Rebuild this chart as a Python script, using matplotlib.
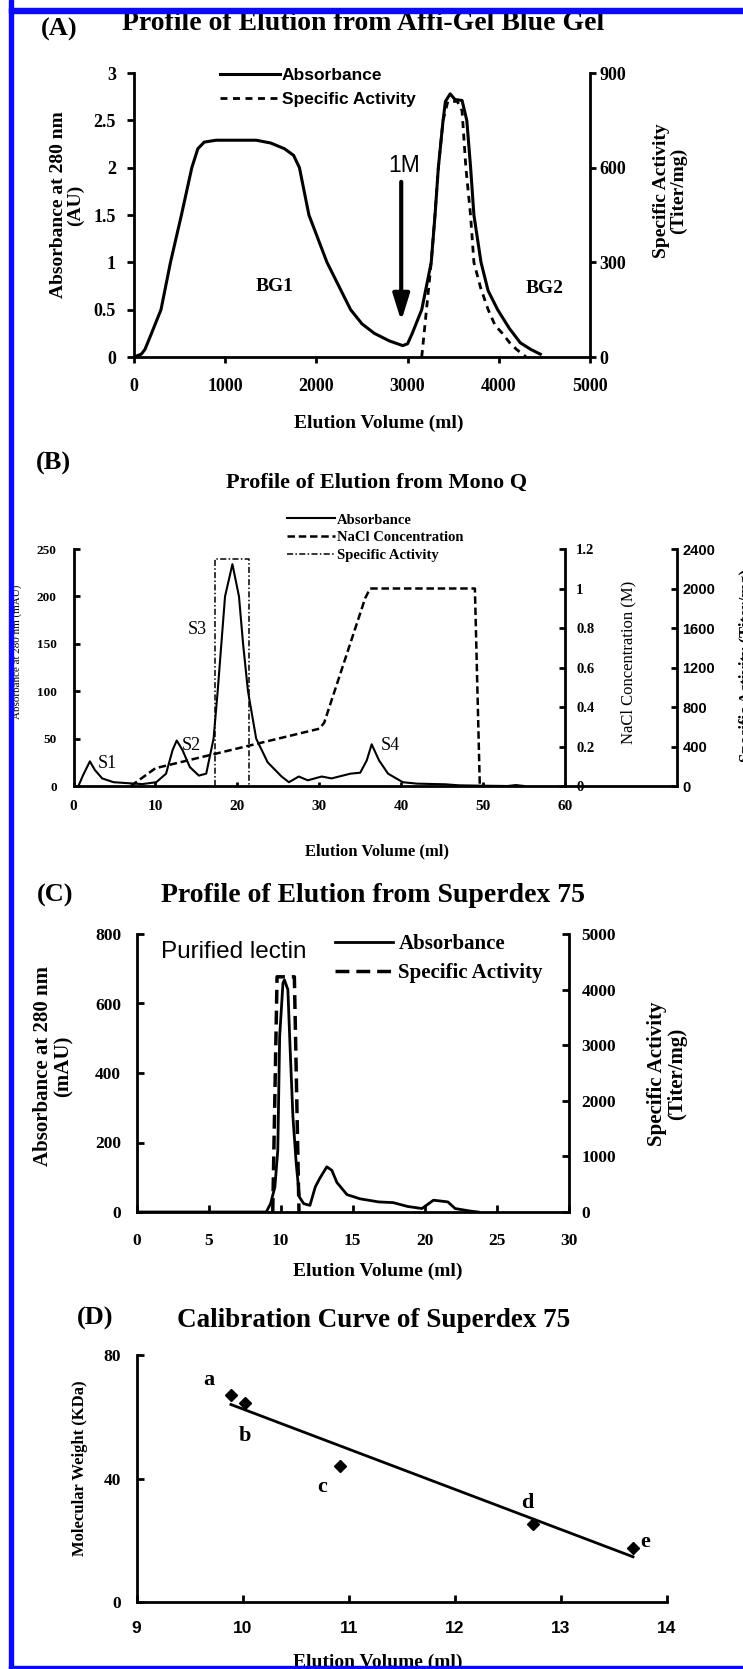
import numpy as np
import matplotlib
matplotlib.use('Agg')
import matplotlib.pyplot as plt
from matplotlib.ticker import FuncFormatter
from matplotlib.lines import Line2D
from matplotlib.patches import Rectangle

plt.rcParams['font.family'] = ['Liberation Serif', 'DejaVu Serif']
plt.rcParams['font.weight'] = 'bold'

SERIF = ['Liberation Serif', 'DejaVu Serif']
SANS = ['Liberation Sans', 'DejaVu Sans']

# ------------------------- DATA -------------------------
# Panel A : Affi-Gel Blue Gel
a_volume = [0, 80, 120, 192, 296, 400, 520, 634, 700, 770, 900, 1100, 1340, 1500, 1650,
            1750, 1814, 1918, 2116, 2375, 2500, 2635, 2800, 2947, 3000, 3051, 3155, 3259,
            3301, 3337, 3389, 3415, 3467, 3519, 3597, 3649, 3691, 3727, 3805, 3883, 3987,
            4117, 4236, 4351, 4455]
a_absorbance = [0, 0.03, 0.08, 0.25, 0.5, 1.0, 1.5, 2.0, 2.2, 2.27, 2.29, 2.29, 2.29, 2.26, 2.2,
                2.13, 2.0, 1.5, 1.0, 0.5, 0.35, 0.25, 0.17, 0.12, 0.14, 0.25, 0.5, 1.0,
                1.5, 2.0, 2.5, 2.7, 2.78, 2.72, 2.71, 2.5, 2.0, 1.5, 1.0, 0.7, 0.5,
                0.3, 0.15, 0.08, 0.03]
a_sa_volume = [3155, 3207, 3259, 3300, 3337, 3389, 3441, 3545, 3597, 3639, 3690, 3727,
               3800, 3883, 3960, 4039, 4120, 4195, 4300]
a_sa = [0, 150, 300, 450, 600, 750, 810, 810, 780, 600, 450, 300,
        220, 150, 100, 75, 45, 24, 0]
a_xticks = [0, 1000, 2000, 3000, 4000, 5000]
a_yticks = [0, 0.5, 1, 1.5, 2, 2.5, 3]
a_sa_ticks = [0, 300, 600, 900]
a_legend = ['Absorbance', 'Specific Activity']
a_peaks = ['BG1', 'BG2']
a_peak_x = [1544, 4507]
a_peak_y = [0.745, 0.727]

# Panel B : Mono Q
b_volume = [0.6, 1.2, 2.0, 2.6, 3.5, 4.9, 6.6, 8.4, 10.1, 11.3, 12.1, 12.6, 13.3, 14.2, 15.3,
            16.2, 17.1, 17.6, 18.5, 19.4, 20.2, 20.7, 21.3, 22.3, 23.7, 25.4, 26.3, 27.5, 28.6,
            30.3, 31.5, 33.8, 35.0, 35.8, 36.4, 37.3, 38.4, 40.2, 41.9, 45.4, 47.1, 50.0, 53.0,
            54.0, 55.0]
b_absorbance = [0, 12, 26, 17, 8, 4, 3, 2, 4, 13, 38, 48, 38, 20, 11,
                13, 50, 100, 200, 234, 200, 150, 100, 50, 25, 10, 4, 10, 6,
                10, 8, 13, 14, 27, 44, 27, 13, 4, 2.5, 1.8, 0.7, 0.3, 0,
                1, 0]
b_nacl_volume = [7.0, 10.0, 30.0, 30.6, 35.6, 36.2, 49.0, 49.6]
b_nacl = [0.0, 0.09, 0.29, 0.32, 0.95, 1.0, 1.0, 0.0]
b_sa_volume = [17.3, 17.3, 21.4, 21.4]
b_sa = [0, 2300, 2300, 0]
b_xticks = [0, 10, 20, 30, 40, 50, 60]
b_yticks = [0, 50, 100, 150, 200, 250]
b_nacl_ticks = [0, 0.2, 0.4, 0.6, 0.8, 1.0, 1.2]
b_sa_ticks = [0, 400, 800, 1200, 1600, 2000, 2400]
b_legend = ['Absorbance', 'NaCl Concentration', 'Specific Activity']
b_peaks = ['S1', 'S2', 'S3', 'S4']
b_peak_x = [2.9, 13.2, 14.0, 37.5]
b_peak_y = [24, 43, 165, 43]

# Panel C : Superdex 75
c_volume = [0, 9.0, 9.3, 9.6, 9.8, 9.93, 10.16, 10.26, 10.5, 10.66, 10.85, 11.08, 11.3, 11.6,
            12.03, 12.4, 12.7, 13.2, 13.55, 13.9, 14.6, 15.5, 16.8, 17.8, 18.8, 19.8, 20.6,
            21.6, 22.1, 23.1, 23.7]
c_absorbance = [0, 0, 24, 72, 178, 505, 659, 668, 640, 466, 274, 139, 43, 24,
                19, 72, 96, 130, 120, 85, 50, 38, 29, 27, 16, 10, 34,
                29, 10, 3, 0]
c_sa_volume = [9.45, 9.75, 10.95, 11.27]
c_sa = [0, 4230, 4230, 0]
c_xticks = [0, 5, 10, 15, 20, 25, 30]
c_yticks = [0, 200, 400, 600, 800]
c_sa_ticks = [0, 1000, 2000, 3000, 4000, 5000]
c_legend = ['Absorbance', 'Specific Activity']

# Panel D : calibration curve
d_volume = [9.89, 10.02, 10.92, 12.74, 13.68]
d_mw = [67.0, 64.5, 44.0, 25.2, 17.6]
d_labels = ['a', 'b', 'c', 'd', 'e']
d_xticks = [9, 10, 11, 12, 13, 14]
d_yticks = [0, 40, 80]

# ------------------------- LAYOUT -------------------------
W, H = 743, 1669
fig = plt.figure(figsize=(W / 100, H / 100), dpi=100)


def fx(px):
    return px / W


def fy(py):
    return 1 - py / H


def axrect(x0, x1, ytop, ybot):
    return [fx(x0), fy(ybot), (x1 - x0) / W, (ybot - ytop) / H]


gfmt = FuncFormatter(lambda v, p: f'{v:g}')
SPW = 2.0


def only_spines(ax, keep):
    for s in ['left', 'right', 'top', 'bottom']:
        ax.spines[s].set_visible(s in keep)
        ax.spines[s].set_linewidth(SPW)


def ftext(x, y, s, size, **kw):
    kw.setdefault('ha', 'center')
    kw.setdefault('va', 'center')
    return fig.text(fx(x), fy(y), s, size=size, **kw)


# blue frame
blue = '#0a0aff'
fig.add_artist(Rectangle((fx(8.5), 0), 4.5 / W, 1, transform=fig.transFigure, color=blue, zorder=10))
fig.add_artist(Rectangle((fx(8.5), fy(13)), 1, 5 / H, transform=fig.transFigure, color=blue, zorder=10))
fig.add_artist(Rectangle((fx(8.5), 0), 1, 3.5 / H, transform=fig.transFigure, color=blue, zorder=10))

# ======================= Panel A =======================
axA = fig.add_axes(axrect(134, 590, 73, 357))
axA.plot(a_volume, a_absorbance, color='k', lw=2.2)
axA.set_xlim(0, 5000)
axA.set_ylim(0, 3)
axA.set_xticks(a_xticks)
axA.set_yticks(a_yticks)
axA.yaxis.set_major_formatter(gfmt)
only_spines(axA, ['left', 'bottom'])
axA.tick_params(axis='y', direction='out', length=5, width=SPW, pad=8, labelsize=13)
axA.tick_params(axis='x', direction='out', length=4, width=SPW, pad=11, labelsize=13)
axA2 = axA.twinx()
sa_style_a = (0, (2.5, 2))
axA2.plot(a_sa_volume, a_sa, color='k', lw=2, linestyle=sa_style_a)
axA2.set_ylim(0, 900)
axA2.set_yticks(a_sa_ticks)
only_spines(axA2, ['right'])
axA2.tick_params(axis='y', direction='out', length=4, width=SPW, pad=3, labelsize=13)
for lbl, x, y in zip(a_peaks, a_peak_x, a_peak_y):
    axA.text(x, y, lbl, size=14, ha='center', va='center')
axA.annotate('', xy=(2930, 0.38), xytext=(2930, 1.85),
             arrowprops=dict(arrowstyle='-|>,head_length=0.8,head_width=0.25', lw=3,
                             color='k', mutation_scale=20, shrinkA=0, shrinkB=0))
ftext(404, 165, '1M', 16.5, family=SANS, weight='normal')
hA = [Line2D([], [], color='k', lw=2.2), Line2D([], [], color='k', lw=2, linestyle=sa_style_a)]
fig.legend(hA, a_legend, loc='center left', bbox_to_anchor=(fx(220), fy(87.5)), frameon=False,
           prop=dict(family=SANS, weight='bold', size=12.5), handlelength=3.45,
           handletextpad=0.1, labelspacing=0.5, borderpad=0, borderaxespad=0)
ftext(59, 29, '(A)', 19)
ftext(363, 24, 'Profile of Elution from Affi-Gel Blue Gel', 20)
ftext(67, 205, 'Absorbance at 280 nm\n(AU)', 14, rotation=90, linespacing=1.05)
ftext(670, 191, 'Specific Activity\n(Titer/mg)', 14, rotation=90, linespacing=1.05)
ftext(379, 423, 'Elution Volume (ml)', 14)

# ======================= Panel B =======================
axB = fig.add_axes(axrect(73.5, 565, 549, 786))
axB.plot(b_volume, b_absorbance, color='k', lw=1.5)
axB.set_xlim(0, 60)
axB.set_ylim(0, 250)
axB.set_xticks(b_xticks)
axB.set_yticks(b_yticks)
only_spines(axB, ['left', 'bottom'])
axB.tick_params(axis='y', direction='in', length=4, width=SPW, pad=12, labelsize=9.5)
axB.tick_params(axis='x', direction='in', length=3, width=SPW, pad=10, labelsize=11)
axB2 = axB.twinx()
nacl_style = (0, (3, 1.5))
axB2.plot(b_nacl_volume, b_nacl, color='k', lw=1.8, linestyle=nacl_style)
axB2.set_ylim(0, 1.2)
axB2.set_yticks(b_nacl_ticks)
axB2.yaxis.set_major_formatter(gfmt)
only_spines(axB2, ['right'])
axB2.tick_params(axis='y', direction='in', length=4, width=SPW, pad=8, labelsize=10.5)
axB3 = axB.twinx()
sa_style_b = (0, (4, 1.5, 1, 1.5))
axB3.plot(b_sa_volume, b_sa, color='k', lw=1.1, linestyle=sa_style_b)
axB3.set_ylim(0, 2400)
axB3.set_yticks(b_sa_ticks)
only_spines(axB3, ['right'])
third_pos = (677 - 73.5) / (565 - 73.5)
axB3.spines['right'].set_position(('axes', third_pos))
axB3.tick_params(axis='y', direction='in', length=4, width=SPW, pad=4, labelsize=10.5,
                 labelfontfamily='Liberation Sans')
axB.add_line(Line2D([1, third_pos], [0, 0], transform=axB.transAxes, color='k', lw=SPW,
                    clip_on=False))
for lbl, x, y in zip(b_peaks, b_peak_x, b_peak_y):
    axB.text(x, y, lbl, size=13, weight='normal', ha='left', va='center')
hB = [Line2D([], [], color='k', lw=1.5), Line2D([], [], color='k', lw=1.8, linestyle=nacl_style),
      Line2D([], [], color='k', lw=1.1, linestyle=sa_style_b)]
fig.legend(hB, b_legend, loc='center left', bbox_to_anchor=(fx(287), fy(537.5)), frameon=False,
           prop=dict(family=SERIF, weight='bold', size=10.5), handlelength=3.3,
           handletextpad=0.1, labelspacing=0.3, borderpad=0, borderaxespad=0)
ftext(53, 463, '(B)', 19)
ftext(377, 483, 'Profile of Elution from Mono Q', 16)
ftext(17, 652, 'Absorbance at 280 nm (mAU)', 8, rotation=90, weight='normal')
ftext(628, 662, 'NaCl Concentration (M)', 12, rotation=90, weight='normal')
ftext(739, 665, 'Specific Activity (Titer/mg)', 12, rotation=90, ha='left')
ftext(377, 851, 'Elution Volume (ml)', 12)

# ======================= Panel C =======================
axC = fig.add_axes(axrect(136.5, 569, 934, 1212))
axC.plot(c_volume, c_absorbance, color='k', lw=2)
axC.set_xlim(0, 30)
axC.set_ylim(0, 800)
axC.set_xticks(c_xticks)
axC.set_yticks(c_yticks)
only_spines(axC, ['left', 'bottom'])
axC.tick_params(axis='y', direction='in', length=5, width=SPW, pad=11, labelsize=12.5)
axC.tick_params(axis='x', direction='in', length=5, width=SPW, pad=15, labelsize=12.5)
axC2 = axC.twinx()
sa_style_c = (0, (4, 2))
axC2.plot(c_sa_volume, c_sa, color='k', lw=2.5, linestyle=sa_style_c)
axC2.set_ylim(0, 5000)
axC2.set_yticks(c_sa_ticks)
only_spines(axC2, ['right'])
axC2.tick_params(axis='y', direction='in', length=5, width=SPW, pad=9, labelsize=12.5)
hC = [Line2D([], [], color='k', lw=2), Line2D([], [], color='k', lw=2.5, linestyle=sa_style_c)]
fig.legend(hC, c_legend, loc='center left', bbox_to_anchor=(fx(335), fy(958.5)), frameon=False,
           prop=dict(family=SERIF, weight='bold', size=15), handlelength=2.8,
           handletextpad=0.24, labelspacing=0.42, borderpad=0, borderaxespad=0)
ftext(161, 952, 'Purified lectin', 17.5, ha='left', family=SANS, weight='normal')
ftext(55, 895, '(C)', 19)
ftext(373, 895, 'Profile of Elution from Superdex 75', 20)
ftext(53.5, 1066, 'Absorbance at 280 nm\n(mAU)', 15, rotation=90, linespacing=1.0)
ftext(667, 1074, 'Specific Activity\n(Titer/mg)', 15, rotation=90, linespacing=1.0)
ftext(378, 1271, 'Elution Volume (ml)', 14)

# ======================= Panel D =======================
axD = fig.add_axes(axrect(136.5, 667, 1355, 1602))
axD.plot(d_volume, d_mw, linestyle='none', marker='D', ms=6, color='k')
fit = np.polyfit(d_volume, d_mw, 1)
xs = np.array([min(d_volume), max(d_volume)])
axD.plot(xs, np.polyval(fit, xs), color='k', lw=2)
axD.set_xlim(9, 14)
axD.set_ylim(0, 80)
axD.set_xticks(d_xticks)
axD.set_yticks(d_yticks)
only_spines(axD, ['left', 'bottom'])
axD.tick_params(axis='y', direction='in', length=5, width=SPW, pad=11, labelsize=12.5)
axD.tick_params(axis='x', direction='in', length=5, width=SPW, pad=13.5, labelsize=12.5,
                labelfontfamily='Liberation Sans')
d_offsets = [(-16, 11), (0, -24), (-13, -15), (-4, 15), (9, 4)]
for lbl, x, y, off in zip(d_labels, d_volume, d_mw, d_offsets):
    axD.annotate(lbl, (x, y), xytext=off, textcoords='offset points', ha='center',
                 va='center', size=16)
ftext(95, 1318, '(D)', 19)
ftext(374, 1320, 'Calibration Curve of Superdex 75', 19.5)
ftext(80, 1468, 'Molecular Weight (KDa)', 12, rotation=90)
ftext(378, 1662, 'Elution Volume (ml)', 14)

fig.savefig('out.png', dpi=100)
